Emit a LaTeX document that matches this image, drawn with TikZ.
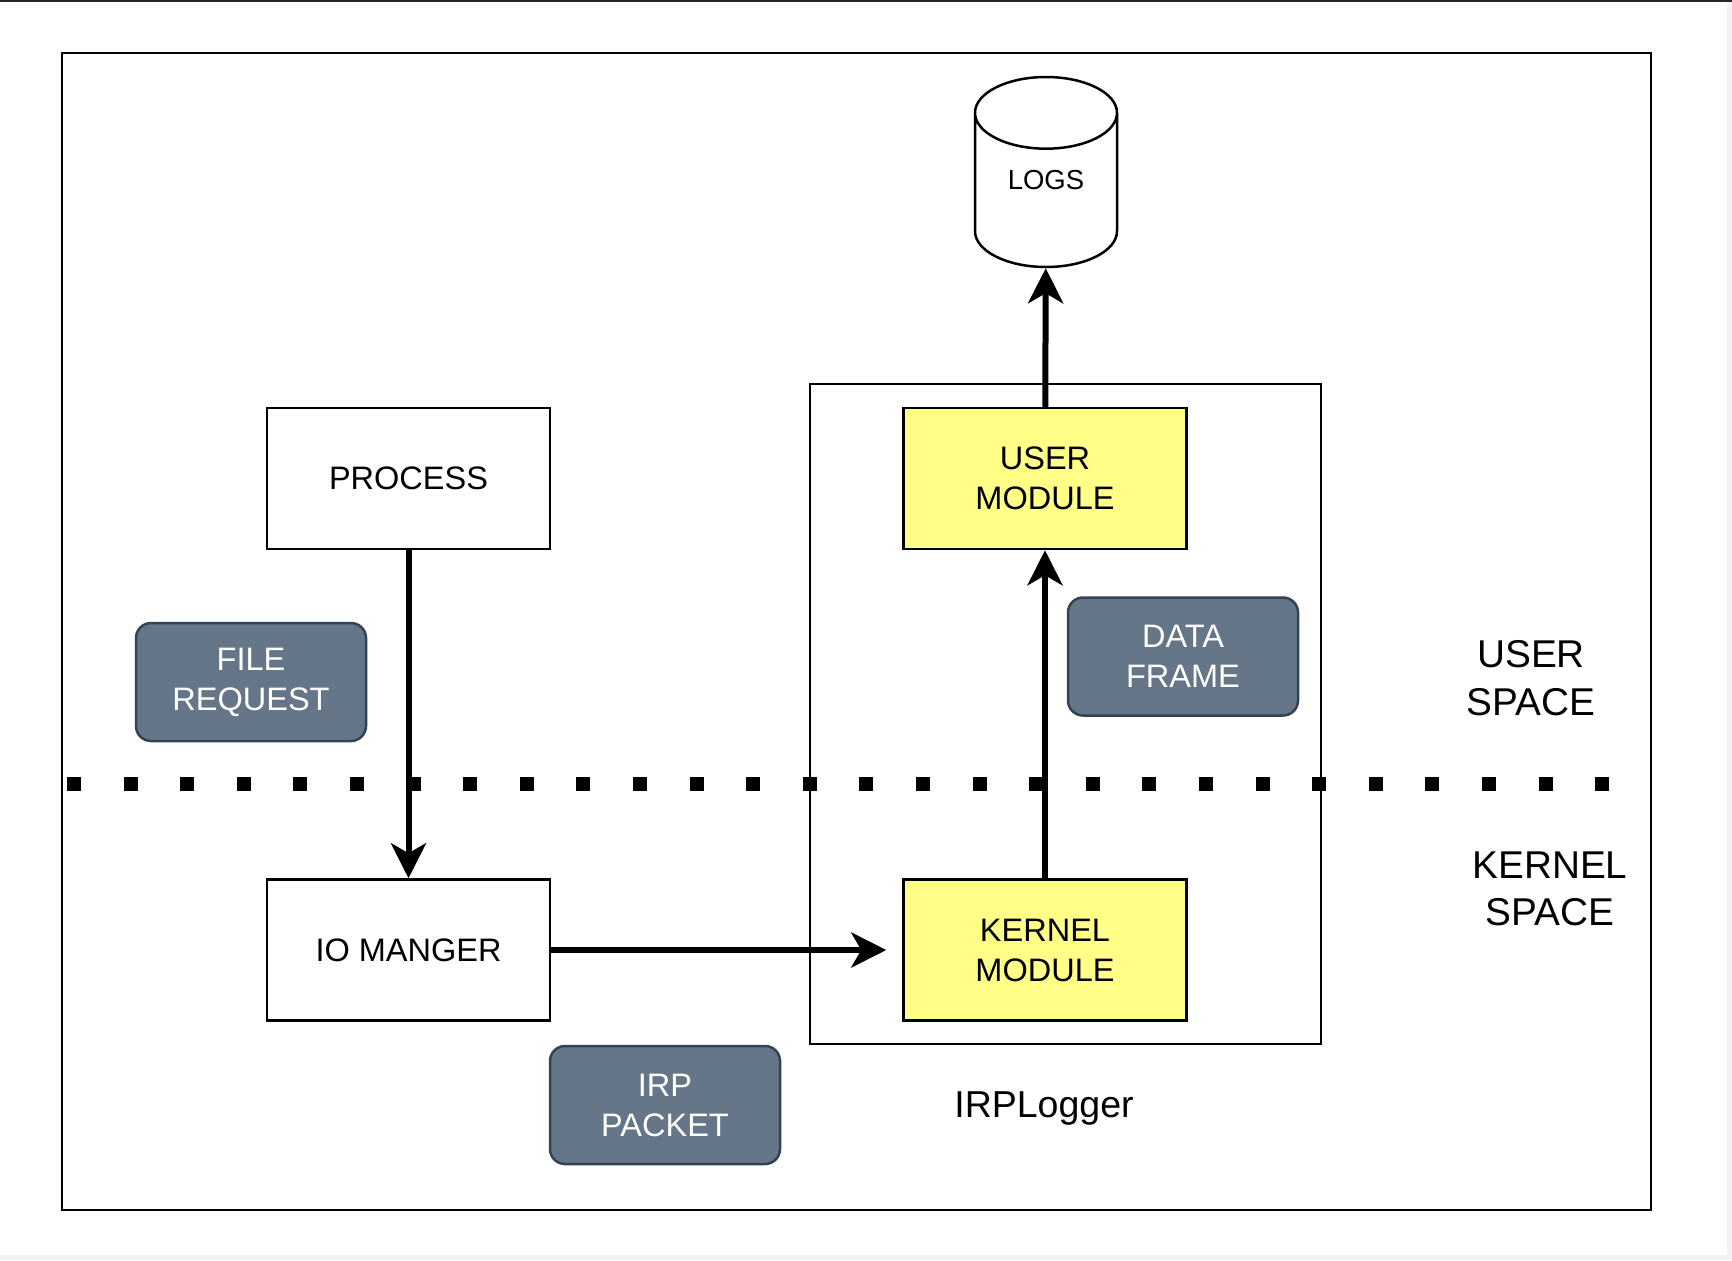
\documentclass[tikz,border=0pt]{standalone}
\usepackage{fontspec}
\setmainfont{Liberation Sans}
\usepackage{xcolor}
\usepackage{tikz}
\usetikzlibrary{arrows.meta}
\usetikzlibrary{shapes.geometric}
\definecolor{slate}{HTML}{647687}
\definecolor{slateline}{HTML}{314354}
\definecolor{notepad}{HTML}{FFFF88}
\tikzset{>={Stealth[length = 14pt, width = 14pt, inset = 4pt]}}
\tikzstyle{box} = [rectangle, draw = black, line width = 1pt, minimum width = 113.2pt, minimum height = 56.4pt, align = center, font = \fontsize{13}{16}\selectfont]
\tikzstyle{module} = [box, fill = notepad]
\tikzstyle{tag} = [rectangle, rounded corners = 6pt, draw = slateline, fill = slate, text = white, line width = 1pt, minimum width = 92pt, minimum height = 47.2pt, align = center, font = \fontsize{13}{16}\selectfont]
\tikzstyle{layer} = [align = center, font = \fontsize{15.5}{19}\selectfont]
\tikzstyle{flow} = [->, line width = 2.4pt]
\tikzstyle{divider} = [line width = 5.6pt, dash pattern = on 5.6pt off 17.04pt]

\begin{document}
\begin{tikzpicture}[x = 0.4pt, y = -0.4pt]
\useasboundingbox (0, 0) rectangle (1732, 1260);
\fill [white] (0, 0) rectangle (1732, 1260);
\fill [black!5] (1727, 0) rectangle (1732, 1260);
\fill [black!5] (0, 1255) rectangle (1732, 1260);
\fill [black!85] (0, 0) rectangle (1732, 2);
% frames
\node [rectangle, draw = black, line width = 1pt, minimum width = 635.6pt, minimum height = 462.8pt] (outer) at (856.5, 631.5) {};
\node [rectangle, draw = black, line width = 1pt, minimum width = 204.4pt, minimum height = 264pt] (logger) at (1065.5, 714) {};
% boxes
\node [box] (P) at (408.5, 478.5) {PROCESS};
\node [box] (IO) at (408.5, 950) {IO MANGER};
\node [module] (UM) at (1045, 478.5) {USER\\MODULE};
\node [module] (KM) at (1045, 950) {KERNEL\\MODULE};
\node [cylinder, shape border rotate = 90, draw = black, line width = 1pt, aspect = 0.77, minimum width = 56.8pt, minimum height = 76pt, anchor = shape center, font = \fontsize{11}{13}\selectfont] (LOGS) at (1046, 172) {\phantom{LOGS}};
\node [font = \fontsize{11}{13}\selectfont] (logtext) at (1046, 180) {LOGS};
\node [tag] (FR) at (251, 682) {FILE\\REQUEST};
\node [tag] (DF) at (1183, 656.5) {DATA\\FRAME};
\node [tag] (IRP) at (665, 1105) {IRP\\PACKET};
% labels
\node [layer] (US) at (1531, 678) {USER\\SPACE};
\node [layer] (KS) at (1550, 889) {KERNEL\\SPACE};
\node [font = \fontsize{15}{18}\selectfont] (name) at (1044, 1108) {IRPLogger};
% user / kernel border
\coordinate (divL) at (67, 784);
\coordinate (divR) at (1609, 784);
\draw [divider] (divL) -- (divR);
\draw [flow] (P) to (IO);
\draw [flow, shorten > = 6.4pt] (IO) to (KM);
\draw [flow] (KM) to (UM);
\draw [flow] (UM) to (LOGS);
\end{tikzpicture}
\end{document}
